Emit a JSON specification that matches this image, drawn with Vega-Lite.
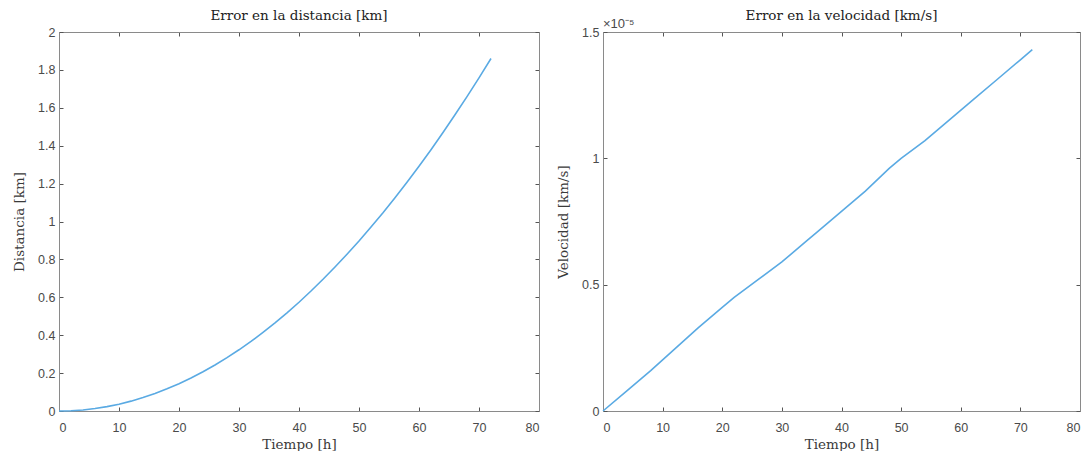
{
  "$schema": "https://vega.github.io/schema/vega-lite/v6.json",
  "background": "white",
  "padding": {"left": 12, "top": 8, "right": 0, "bottom": 0},
  "spacing": 16,
  "config": {
    "view": {"stroke": null},
    "axis": {
      "grid": false,
      "domainColor": "#8a8a8a",
      "domainWidth": 1,
      "tickColor": "#555555",
      "tickSize": -4,
      "labelFont": "Liberation Sans",
      "labelFontSize": 12.5,
      "labelColor": "#4a4a4a",
      "labelPadding": 8,
      "titleFont": "DejaVu Serif",
      "titleFontSize": 13.5,
      "titleFontWeight": "normal",
      "titleColor": "#3a3a3a"
    },
    "axisBottom": {"labelPadding": 14},
    "title": {"font": "DejaVu Serif", "fontSize": 13.5, "fontWeight": "normal", "color": "#222222", "offset": 4}
  },
  "hconcat": [
    {
      "width": 480,
      "height": 379,
      "title": {"text": "Error en la distancia [km]"},
      "data": {"values": [
        {"tiempo": 0, "distancia": 0}, {"tiempo": 2, "distancia": 0.001}, {"tiempo": 4, "distancia": 0.005},
        {"tiempo": 6, "distancia": 0.013}, {"tiempo": 8, "distancia": 0.023}, {"tiempo": 10, "distancia": 0.036},
        {"tiempo": 12, "distancia": 0.052}, {"tiempo": 14, "distancia": 0.071}, {"tiempo": 16, "distancia": 0.092},
        {"tiempo": 18, "distancia": 0.117}, {"tiempo": 20, "distancia": 0.144}, {"tiempo": 22, "distancia": 0.174},
        {"tiempo": 24, "distancia": 0.207}, {"tiempo": 26, "distancia": 0.243}, {"tiempo": 28, "distancia": 0.282},
        {"tiempo": 30, "distancia": 0.323}, {"tiempo": 32, "distancia": 0.367}, {"tiempo": 34, "distancia": 0.415},
        {"tiempo": 36, "distancia": 0.465}, {"tiempo": 38, "distancia": 0.518}, {"tiempo": 40, "distancia": 0.574},
        {"tiempo": 42, "distancia": 0.633}, {"tiempo": 44, "distancia": 0.695}, {"tiempo": 46, "distancia": 0.76},
        {"tiempo": 48, "distancia": 0.827}, {"tiempo": 50, "distancia": 0.897}, {"tiempo": 52, "distancia": 0.971},
        {"tiempo": 54, "distancia": 1.046}, {"tiempo": 56, "distancia": 1.125}, {"tiempo": 58, "distancia": 1.207},
        {"tiempo": 60, "distancia": 1.292}, {"tiempo": 62, "distancia": 1.379}, {"tiempo": 64, "distancia": 1.47},
        {"tiempo": 66, "distancia": 1.563}, {"tiempo": 68, "distancia": 1.659}, {"tiempo": 70, "distancia": 1.758},
        {"tiempo": 72, "distancia": 1.86}
      ]},
      "layer": [
        {
          "mark": {"type": "line", "color": "#5aaae3", "strokeWidth": 1.6},
          "encoding": {
            "x": {"field": "tiempo", "type": "quantitative", "scale": {"domain": [0, 80], "nice": false},
                  "axis": {"orient": "bottom", "values": [0,10,20,30,40,50,60,70,80], "title": "Tiempo [h]", "titlePadding": 4}},
            "y": {"field": "distancia", "type": "quantitative", "scale": {"domain": [0, 2], "nice": false},
                  "axis": {"orient": "left", "values": [0,0.2,0.4,0.6,0.8,1,1.2,1.4,1.6,1.8,2], "format": "~g", "title": "Distancia [km]", "titlePadding": 11}}
          }
        },
        {
          "mark": {"type": "line", "color": "#5aaae3", "strokeWidth": 1.6, "opacity": 0},
          "encoding": {
            "x": {"field": "tiempo", "type": "quantitative", "scale": {"domain": [0, 80], "nice": false},
                  "axis": {"orient": "top", "values": [0,10,20,30,40,50,60,70,80], "labels": false, "title": null}},
            "y": {"field": "distancia", "type": "quantitative", "scale": {"domain": [0, 2], "nice": false},
                  "axis": {"orient": "right", "values": [0,0.2,0.4,0.6,0.8,1,1.2,1.4,1.6,1.8,2], "labels": false, "title": null}}
          }
        }
      ],
      "resolve": {"axis": {"x": "independent", "y": "independent"}}
    },
    {
      "width": 477,
      "height": 379,
      "title": {"text": "Error en la velocidad [km/s]", "offset": -4},
      "data": {"values": [
        {"tiempo": 0, "velocidad": 0}, {"tiempo": 4, "velocidad": 0.0000008}, {"tiempo": 8, "velocidad": 0.0000016},
        {"tiempo": 12, "velocidad": 0.00000245}, {"tiempo": 16, "velocidad": 0.0000033}, {"tiempo": 20, "velocidad": 0.0000041},
        {"tiempo": 22, "velocidad": 0.0000045}, {"tiempo": 26, "velocidad": 0.0000052}, {"tiempo": 30, "velocidad": 0.0000059},
        {"tiempo": 34, "velocidad": 0.0000067}, {"tiempo": 36, "velocidad": 0.0000071}, {"tiempo": 40, "velocidad": 0.0000079},
        {"tiempo": 44, "velocidad": 0.0000087}, {"tiempo": 48, "velocidad": 0.0000096}, {"tiempo": 50, "velocidad": 0.00001},
        {"tiempo": 54, "velocidad": 0.0000107}, {"tiempo": 58, "velocidad": 0.0000115}, {"tiempo": 62, "velocidad": 0.0000123},
        {"tiempo": 66, "velocidad": 0.0000131}, {"tiempo": 70, "velocidad": 0.0000139}, {"tiempo": 72, "velocidad": 0.0000143}
      ]},
      "layer": [
        {
          "mark": {"type": "line", "color": "#5aaae3", "strokeWidth": 1.6},
          "encoding": {
            "x": {"field": "tiempo", "type": "quantitative", "scale": {"domain": [0, 80], "nice": false},
                  "axis": {"orient": "bottom", "values": [0,10,20,30,40,50,60,70,80], "title": "Tiempo [h]", "titlePadding": 4}},
            "y": {"field": "velocidad", "type": "quantitative", "scale": {"domain": [0, 0.000015], "nice": false},
                  "axis": {"orient": "left", "values": [0, 0.000005, 0.00001, 0.000015], "labelExpr": "format(datum.value * 100000, '~g')", "title": "Velocidad [km/s]", "titlePadding": 11}}
          }
        },
        {
          "mark": {"type": "line", "color": "#5aaae3", "strokeWidth": 1.6, "opacity": 0},
          "encoding": {
            "x": {"field": "tiempo", "type": "quantitative", "scale": {"domain": [0, 80], "nice": false},
                  "axis": {"orient": "top", "values": [0,10,20,30,40,50,60,70,80], "labels": false, "title": null}},
            "y": {"field": "velocidad", "type": "quantitative", "scale": {"domain": [0, 0.000015], "nice": false},
                  "axis": {"orient": "right", "values": [0, 0.000005, 0.00001, 0.000015], "labels": false, "title": null}}
          }
        },
        {
          "data": {"values": [{"texto": "×10⁻⁵"}]},
          "mark": {"type": "text", "align": "left", "baseline": "bottom", "dy": -1, "font": "Liberation Sans", "fontSize": 13, "color": "#4a4a4a"},
          "encoding": {
            "x": {"datum": 0, "type": "quantitative", "axis": null},
            "y": {"datum": 0.000015, "type": "quantitative", "axis": null},
            "text": {"field": "texto"}
          }
        }
      ],
      "resolve": {"axis": {"x": "independent", "y": "independent"}}
    }
  ]
}
